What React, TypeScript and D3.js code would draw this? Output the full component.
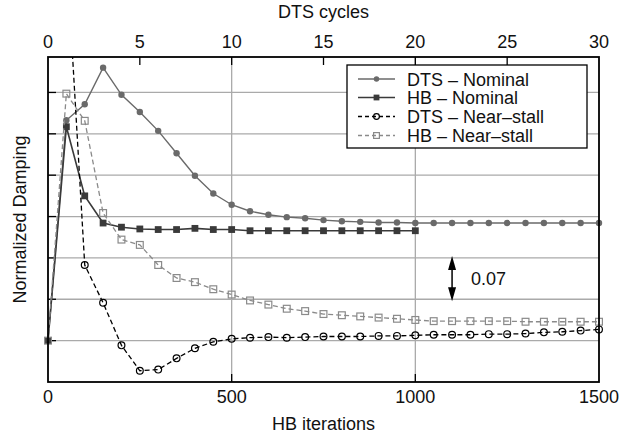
import React from 'react';
import * as d3 from 'd3';

// ---- data (x = DTS cycle index, 1 DTS cycle = 50 HB iterations) ----
const topTicks = [0, 5, 10, 15, 20, 25, 30];
const bottomTicks = [0, 500, 1000, 1500];
const yGridValues = [1.0, 1.07, 1.14, 1.21, 1.28, 1.35, 1.42];
const hbPerCycle = 50;

const dtsNominalStart = 0;
const dtsNominal = [
  1.0, 1.373, 1.4, 1.462, 1.416, 1.387, 1.355, 1.317, 1.279, 1.249, 1.23,
  1.219, 1.213, 1.209, 1.207, 1.204, 1.202, 1.201, 1.2, 1.2, 1.199,
  1.199, 1.199, 1.199, 1.199, 1.199, 1.199, 1.199, 1.199, 1.199, 1.199,
];

const hbNominalStart = 0;
const hbNominal = [
  1.0, 1.362, 1.245, 1.199, 1.192, 1.189, 1.188, 1.188, 1.19, 1.188, 1.188,
  1.186, 1.186, 1.186, 1.186, 1.186, 1.186, 1.186, 1.186, 1.186, 1.186,
];

const dtsNearStallStart = 1;
const dtsNearStall = [
  1.661, 1.128, 1.064, 0.992, 0.949, 0.951, 0.97, 0.987, 0.998, 1.003,
  1.005, 1.006, 1.005, 1.006, 1.007, 1.007, 1.007, 1.008, 1.008, 1.009,
  1.01, 1.01, 1.01, 1.011, 1.011, 1.012, 1.014, 1.015, 1.017, 1.019,
];

const hbNearStallStart = 0;
const hbNearStall = [
  1.0, 1.418, 1.372, 1.216, 1.171, 1.162, 1.128, 1.106, 1.099, 1.087, 1.078,
  1.068, 1.061, 1.054, 1.05, 1.045, 1.043, 1.041, 1.039, 1.037, 1.035,
  1.033, 1.033, 1.033, 1.033, 1.033, 1.032, 1.032, 1.032, 1.032, 1.032,
];

const seriesNames = ['DTS \u2013 Nominal', 'HB \u2013 Nominal', 'DTS \u2013 Near\u2013stall', 'HB \u2013 Near\u2013stall'];
const annotationSpan = [1.14, 1.07];
const annotationCycle = 22;
const annotationLabel = '0.07';

const FONT = '"Liberation Sans", Arial, Helvetica, sans-serif';

type Series = {
  name: string;
  start: number;
  values: number[];
  color: string;
  width: number;
  dash?: string;
  marker: 'dot' | 'square' | 'ocircle' | 'osquare';
};

export default function App() {
  const L = 48, R = 599, T = 57, B = 382;
  const x = d3.scaleLinear().domain([0, 30]).range([L, R]);
  const xHB = d3.scaleLinear().domain([0, 1500]).range([L, R]);
  const y = d3.scaleLinear().domain([0.93, 1.48]).range([B, T]);

  const series: Series[] = [
    { name: seriesNames[0], start: dtsNominalStart, values: dtsNominal, color: '#6a6a6a', width: 1.4, marker: 'dot' },
    { name: seriesNames[1], start: hbNominalStart, values: hbNominal, color: '#3a3a3a', width: 1.6, marker: 'square' },
    { name: seriesNames[2], start: dtsNearStallStart, values: dtsNearStall, color: '#000000', width: 1.3, dash: '5,3', marker: 'ocircle' },
    { name: seriesNames[3], start: hbNearStallStart, values: hbNearStall, color: '#8a8a8a', width: 1.3, dash: '5,3', marker: 'osquare' },
  ];

  const line = d3
    .line<[number, number]>()
    .x((d) => x(d[0]))
    .y((d) => y(d[1]));

  const marker = (m: Series['marker'], cx: number, cy: number, color: string, key: string | number, scale = 1) => {
    if (m === 'dot') return <circle key={key} cx={cx} cy={cy} r={3.2 * scale} fill={color} />;
    if (m === 'square') {
      const s = 6.8 * scale;
      return <rect key={key} x={cx - s / 2} y={cy - s / 2} width={s} height={s} fill={color} />;
    }
    if (m === 'ocircle') return <circle key={key} cx={cx} cy={cy} r={3.4 * scale} fill="none" stroke={color} strokeWidth={1.2} />;
    const s = 6.8 * scale;
    return <rect key={key} x={cx - s / 2} y={cy - s / 2} width={s} height={s} fill="none" stroke={color} strokeWidth={1.2} />;
  };

  const legX = 347, legY = 65, legW = 240, legH = 83;
  const legRows = [79, 97.5, 116.5, 135.5];

  const ax = x(annotationCycle);
  const ay1 = y(annotationSpan[0]);
  const ay2 = y(annotationSpan[1]);

  return (
    <svg width={624} height={439} style={{ position: 'absolute', left: 0, top: 0, background: '#fff' }} fontFamily={FONT}>
      <defs>
        <clipPath id="plotclip">
          <rect x={L - 8} y={T} width={R - L + 16} height={B - T + 8} />
        </clipPath>
      </defs>
      <rect x={0} y={0} width={624} height={439} fill="#fff" />

      {/* gridlines */}
      {yGridValues.map((v) => (
        <line key={'gy' + v} x1={L} x2={R} y1={y(v)} y2={y(v)} stroke="#aaaaaa" strokeWidth={1.3} />
      ))}
      {bottomTicks.slice(1, -1).map((t) => (
        <line key={'gx' + t} x1={xHB(t)} x2={xHB(t)} y1={T} y2={B} stroke="#aaaaaa" strokeWidth={1.3} />
      ))}

      {/* tick marks (inward) */}
      {yGridValues.map((v) => (
        <line key={'ty' + v} x1={L} x2={L + 8} y1={y(v)} y2={y(v)} stroke="#000" strokeWidth={1.3} />
      ))}
      {topTicks.slice(1, -1).map((t) => (
        <line key={'tt' + t} x1={x(t)} x2={x(t)} y1={T} y2={T + 8} stroke="#000" strokeWidth={1.3} />
      ))}
      {bottomTicks.slice(1, -1).map((t) => (
        <line key={'tb' + t} x1={xHB(t)} x2={xHB(t)} y1={B} y2={B - 8} stroke="#000" strokeWidth={1.3} />
      ))}

      {/* series */}
      <g clipPath="url(#plotclip)">
        {series.map((s) => {
          const pts: [number, number][] = s.values.map((v, i) => [s.start + i, v]);
          return (
            <g key={s.name}>
              <path d={line(pts) || ''} fill="none" stroke={s.color} strokeWidth={s.width} strokeDasharray={s.dash} />
              {pts.map((p, i) => marker(s.marker, x(p[0]), y(p[1]), s.color, i))}
            </g>
          );
        })}
      </g>

      {/* frame */}
      <rect x={L} y={T} width={R - L} height={B - T} fill="none" stroke="#000" strokeWidth={1.8} />

      {/* tick labels */}
      {topTicks.map((t) => (
        <text key={'lt' + t} x={x(t)} y={T - 9} fontSize={18} textAnchor="middle" fill="#111">
          {t}
        </text>
      ))}
      {bottomTicks.map((t) => (
        <text key={'lb' + t} x={xHB(t)} y={B + 21} fontSize={18} textAnchor="middle" fill="#111">
          {t}
        </text>
      ))}

      {/* axis titles */}
      <text x={(L + R) / 2} y={18} fontSize={18} textAnchor="middle" fill="#111">DTS cycles</text>
      <text x={(L + R) / 2} y={430} fontSize={18} textAnchor="middle" fill="#111">HB iterations</text>
      <text transform={`translate(26,${(T + B) / 2}) rotate(-90)`} fontSize={18} textAnchor="middle" fill="#111">
        Normalized Damping
      </text>

      {/* annotation */}
      <line x1={ax} x2={ax} y1={ay1 + 10} y2={ay2 - 10} stroke="#000" strokeWidth={1.5} />
      <path d={`M${ax},${ay1 - 2} L${ax - 4},${ay1 + 12} L${ax + 4},${ay1 + 12} Z`} fill="#000" />
      <path d={`M${ax},${ay2 + 2} L${ax - 4},${ay2 - 12} L${ax + 4},${ay2 - 12} Z`} fill="#000" />
      <text x={ax + 19} y={(ay1 + ay2) / 2 + 6.5} fontSize={18} fill="#111">{annotationLabel}</text>

      {/* legend */}
      <rect x={legX} y={legY} width={legW} height={legH} fill="#fff" stroke="#000" strokeWidth={1.3} />
      {series.map((s, i) => (
        <g key={'leg' + s.name}>
          <line x1={358} x2={395} y1={legRows[i]} y2={legRows[i]} stroke={s.color} strokeWidth={s.width} strokeDasharray={s.dash ? '4,3' : undefined} />
          {marker(s.marker, 376.5, legRows[i], s.color, 'lm' + i, 0.85)}
          <text x={407} y={legRows[i] + 6.5} fontSize={18} fill="#111">{s.name}</text>
        </g>
      ))}
    </svg>
  );
}
